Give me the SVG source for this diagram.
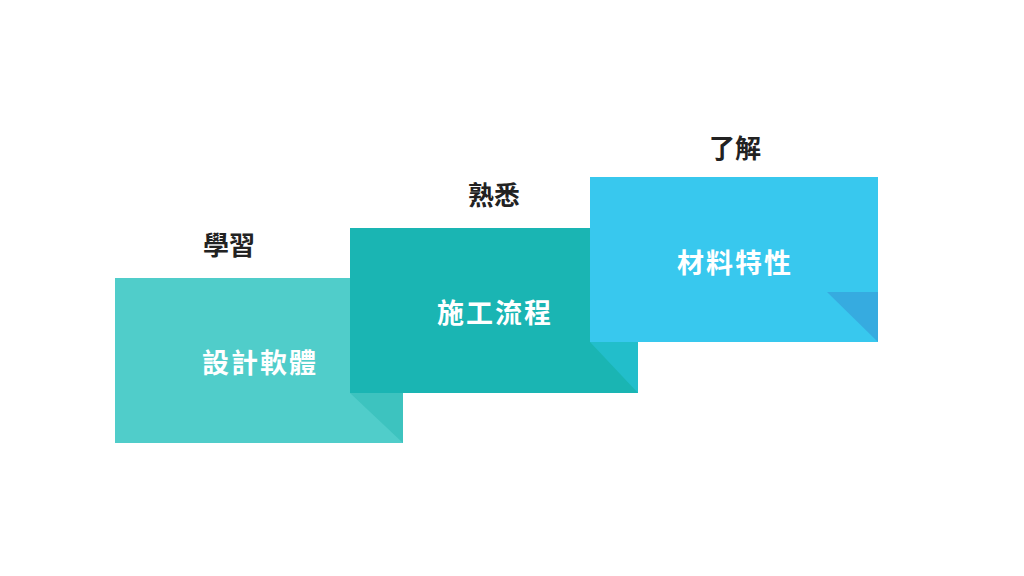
<svg xmlns="http://www.w3.org/2000/svg" width="1024" height="576" viewBox="0 0 1024 576">
<style>
.title{font-family:"Noto Sans CJK TC","Noto Sans CJK SC",sans-serif;font-weight:700;font-size:26px;fill:#222;text-anchor:middle}
.body{font-family:"Noto Sans CJK TC","Noto Sans CJK SC",sans-serif;font-weight:700;font-size:27px;fill:#fff;text-anchor:middle;letter-spacing:2px}
</style>
<rect width="1024" height="576" fill="#fff"/>
<g id="step1">
<rect x="115" y="278" width="288" height="165" fill="#50CDCA"/>
<polygon points="350,393 403,393 403,443" fill="#3DC3BF"/>
<text class="title" x="229" y="255">學習</text>
<text class="body" x="260" y="373">設計軟體</text>
</g>
<g id="step2">
<rect x="350" y="228" width="288" height="165" fill="#1AB5B3"/>
<polygon points="590,342 638,342 638,393" fill="#22BECB"/>
<text class="title" x="494" y="205">熟悉</text>
<text class="body" x="495" y="323">施工流程</text>
</g>
<g id="step3">
<rect x="590" y="177" width="288" height="165" fill="#38C8EE"/>
<polygon points="827,292 878,292 878,342" fill="#36ABE0"/>
<text class="title" x="735" y="158">了解</text>
<text class="body" x="735" y="273">材料特性</text>
</g>
<g id="connectors"/>
</svg>
